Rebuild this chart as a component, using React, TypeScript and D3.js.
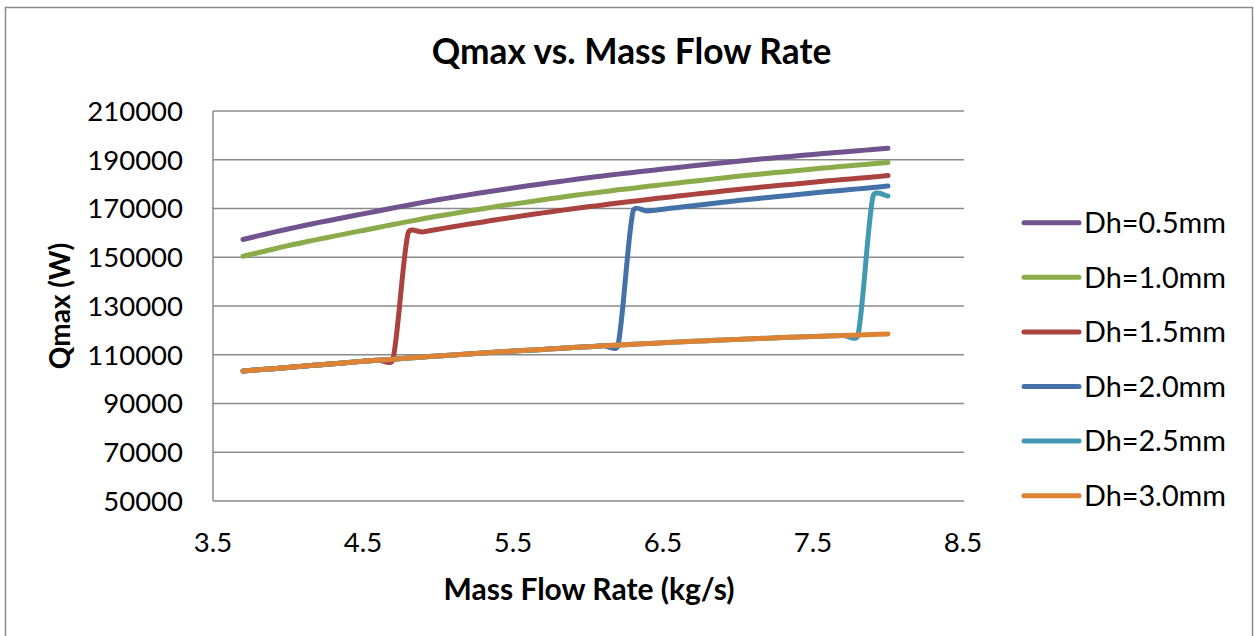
import React from 'react';
import * as d3 from 'd3';

const massFlow = [3.7, 3.8, 3.9, 4.0, 4.1, 4.2, 4.3, 4.4, 4.5, 4.6, 4.7, 4.8, 4.9, 5.0, 5.1, 5.2, 5.3, 5.4, 5.5, 5.6, 5.7, 5.8, 5.9, 6.0, 6.1, 6.2, 6.3, 6.4, 6.5, 6.6, 6.7, 6.8, 6.9, 7.0, 7.1, 7.2, 7.3, 7.4, 7.5, 7.6, 7.7, 7.8, 7.9, 8.0];

const qDh05 = [157300, 158750, 160200, 161600, 162900, 164200, 165400, 166600, 167800, 169000, 170200, 171350, 172500, 173600, 174600, 175600, 176550, 177500, 178400, 179300, 180150, 181000, 181800, 182600, 183350, 184100, 184800, 185500, 186200, 186850, 187500, 188150, 188800, 189400, 190000, 190550, 191100, 191650, 192200, 192700, 193200, 193700, 194200, 194700];
const qDh10 = [150400, 151850, 153300, 154750, 156050, 157350, 158550, 159800, 161000, 162200, 163450, 164600, 165800, 166900, 167900, 168950, 169900, 170900, 171800, 172700, 173600, 174450, 175300, 176100, 176850, 177650, 178350, 179100, 179800, 180500, 181200, 181850, 182550, 183200, 183850, 184450, 185000, 185600, 186200, 186750, 187300, 187800, 188350, 188900];
const qDh15 = [103300, 103800, 104300, 104800, 105300, 105800, 106300, 106800, 107300, 107750, 108200, 159700, 160400, 161500, 162500, 163550, 164500, 165500, 166400, 167300, 168200, 169050, 169900, 170700, 171450, 172250, 172950, 173700, 174400, 175100, 175800, 176450, 177150, 177800, 178450, 179050, 179600, 180200, 180800, 181350, 181900, 182400, 182950, 183500];
const qDh20 = [103300, 103800, 104300, 104800, 105300, 105800, 106300, 106800, 107300, 107750, 108200, 108650, 109100, 109500, 109900, 110300, 110700, 111100, 111500, 111850, 112200, 112550, 112950, 113300, 113650, 113950, 168800, 169000, 169700, 170450, 171150, 171850, 172550, 173250, 173900, 174550, 175100, 175750, 176350, 176950, 177500, 178050, 178600, 179200];
const qDh25 = [103300, 103800, 104300, 104800, 105300, 105800, 106300, 106800, 107300, 107750, 108200, 108650, 109100, 109500, 109900, 110300, 110700, 111100, 111500, 111850, 112200, 112550, 112950, 113300, 113650, 113950, 114300, 114600, 114900, 115200, 115500, 115750, 116050, 116300, 116550, 116800, 117050, 117250, 117500, 117700, 117900, 118100, 175000, 175100];
const qDh30 = [103300, 103800, 104300, 104800, 105300, 105800, 106300, 106800, 107300, 107750, 108200, 108650, 109100, 109500, 109900, 110300, 110700, 111100, 111500, 111850, 112200, 112550, 112950, 113300, 113650, 113950, 114300, 114600, 114900, 115200, 115500, 115750, 116050, 116300, 116550, 116800, 117050, 117250, 117500, 117700, 117900, 118100, 118300, 118500];

const seriesNames = ['Dh=0.5mm', 'Dh=1.0mm', 'Dh=1.5mm', 'Dh=2.0mm', 'Dh=2.5mm', 'Dh=3.0mm'];
const seriesValues = [qDh05, qDh10, qDh15, qDh20, qDh25, qDh30];
const seriesColors = ['#70538f', '#8cab4b', '#aa4340', '#4471a8', '#4199b2', '#dd8333'];

const yTicks = [50000, 70000, 90000, 110000, 130000, 150000, 170000, 190000, 210000];
const xTicks = [3.5, 4.5, 5.5, 6.5, 7.5, 8.5];

const W = 1254;
const H = 636;
const FONT = 'Lato, "Open Sans", sans-serif';

// Custom d3 curve mimicking a spreadsheet "smoothed line":
// Catmull-Rom style Bezier handles (1/6 of neighbour chord), clamped to half the segment length.
class SmoothCurve {
  _context: any;
  _pts: [number, number][] = [];
  constructor(context: any) {
    this._context = context;
  }
  areaStart() {}
  areaEnd() {}
  lineStart() {
    this._pts = [];
  }
  point(x: number, y: number) {
    this._pts.push([+x, +y]);
  }
  lineEnd() {
    const p = this._pts;
    const n = p.length;
    if (!n) return;
    const ctx = this._context;
    ctx.moveTo(p[0][0], p[0][1]);
    const dist = (a: [number, number], b: [number, number]) => Math.hypot(b[0] - a[0], b[1] - a[1]);
    for (let i = 0; i < n - 1; i++) {
      const p0 = p[Math.max(0, i - 1)];
      const p1 = p[i];
      const p2 = p[i + 1];
      const p3 = p[Math.min(n - 1, i + 2)];
      const d02 = dist(p0, p2);
      const d12 = dist(p1, p2);
      const d13 = dist(p1, p3);
      let f0 = 1 / 6;
      let f1 = 1 / 6;
      if (d02 > 0 && d02 / 6 > d12 / 2) f0 = d12 / (2 * d02);
      if (d13 > 0 && d13 / 6 > d12 / 2) f1 = d12 / (2 * d13);
      const c1x = p1[0] + (p2[0] - p0[0]) * f0;
      const c1y = p1[1] + (p2[1] - p0[1]) * f0;
      const c2x = p2[0] - (p3[0] - p1[0]) * f1;
      const c2y = p2[1] - (p3[1] - p1[1]) * f1;
      ctx.bezierCurveTo(c1x, c1y, c2x, c2y, p2[0], p2[1]);
    }
  }
}
const curveSmooth = (context: any) => new SmoothCurve(context) as any;

export default function App() {
  const x = d3.scaleLinear().domain([3.5, 8.5]).range([213, 963]);
  const y = d3.scaleLinear().domain([50000, 210000]).range([501, 111]);
  const line = d3
    .line<[number, number]>()
    .x((d) => x(d[0]))
    .y((d) => y(d[1]))
    .curve(curveSmooth);
  const fmtX = d3.format('.1f');
  const gridColor = '#8a8a8a';

  return (
    <svg
      width={W}
      height={H}
      style={{ position: 'absolute', left: 0, top: 0, display: 'block', background: '#fff' }}
      fontFamily={FONT}
    >
      <rect x={5.5} y={7.5} width={1247} height={640} fill="#fff" stroke="#8a8a8a" strokeWidth={1.5} />

      {yTicks.map((t) => (
        <line key={'g' + t} x1={213} x2={964} y1={y(t)} y2={y(t)} stroke={gridColor} strokeWidth={1.5} />
      ))}
      <line x1={213} x2={213} y1={y(210000)} y2={y(50000)} stroke={gridColor} strokeWidth={1.5} />

      {yTicks.map((t) => (
        <text key={'yl' + t} x={183} y={y(t)} dy="0.36em" textAnchor="end" fontSize={27.5} fill="#000">
          {t}
        </text>
      ))}
      {xTicks.map((t) => (
        <text key={'xl' + t} x={x(t)} y={552} textAnchor="middle" fontSize={27.5} fill="#000">
          {fmtX(t)}
        </text>
      ))}

      {seriesValues.map((vals, i) => (
        <path
          key={'s' + i}
          d={line(massFlow.map((m, j) => [m, vals[j]] as [number, number])) || ''}
          fill="none"
          stroke={seriesColors[i]}
          strokeWidth={5}
          strokeLinecap="round"
          strokeLinejoin="round"
        />
      ))}

      {seriesNames.map((name, i) => {
        const ly = 222.7 + i * 54.6;
        return (
          <g key={'lg' + i}>
            <line x1={1024} x2={1079} y1={ly} y2={ly} stroke={seriesColors[i]} strokeWidth={5} strokeLinecap="round" />
            <text x={1084} y={ly} dy="0.36em" fontSize={28.8} fill="#000">
              {name}
            </text>
          </g>
        );
      })}

      <text x={631.5} y={64} textAnchor="middle" fontSize={35.3} fontWeight="bold" fill="#000">
        Qmax vs. Mass Flow Rate
      </text>
      <text x={589} y={600} textAnchor="middle" fontSize={30} fontWeight="bold" fill="#000">
        Mass Flow Rate (kg/s)
      </text>
      <text transform="translate(70,306) rotate(-90)" textAnchor="middle" fontSize={28} fontWeight="bold" fill="#000">
        Qmax (W)
      </text>
    </svg>
  );
}
